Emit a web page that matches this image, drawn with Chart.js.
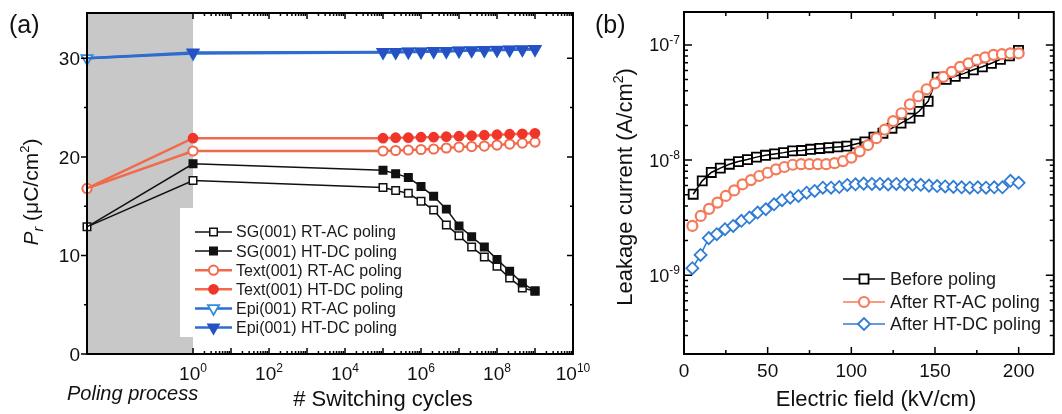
<!DOCTYPE html>
<html><head><meta charset="utf-8">
<script src="https://cdn.jsdelivr.net/npm/chart.js@4.4.1/dist/chart.umd.min.js"></script>
<style>
html,body{margin:0;padding:0;background:#fff;}
#wrap{position:relative;width:1062px;height:414px;overflow:hidden;background:#fff;}
#ca{position:absolute;left:0;top:0;}
#cb{position:absolute;left:590px;top:0;}
</style></head><body>
<div id="wrap"><canvas id="ca" width="600" height="414"></canvas><canvas id="cb" width="472" height="414"></canvas></div>
<script>
// ================= Panel (a) data =================
const polingStart = Math.pow(10, -2.79); // "before poling" state, plotted at the left edge
const cyclesA = [polingStart, 1, 1e5, 2.15e5, 4.64e5, 1e6, 2.15e6, 4.64e6, 1e7, 2.15e7, 4.64e7, 1e8, 2.15e8, 4.64e8, 1e9];
const sgRT   = [12.9, 17.6, 16.9, 16.6, 16.3, 15.5, 14.6, 13.1, 12.0, 10.85, 9.85, 8.9, 7.7, 6.7, 6.4];
const sgHT   = [12.9, 19.3, 18.65, 18.3, 17.9, 17.0, 16.0, 14.7, 13.0, 11.9, 10.85, 9.6, 8.4, 7.2, 6.4];
const textRT = [16.8, 20.6, 20.6, 20.65, 20.7, 20.75, 20.8, 20.9, 21.0, 21.05, 21.1, 21.2, 21.3, 21.4, 21.5];
const textHT = [16.8, 21.9, 21.9, 21.95, 21.95, 22.0, 22.0, 22.05, 22.1, 22.15, 22.2, 22.25, 22.3, 22.35, 22.4];
const epiRT  = [30.0, 30.5, 30.6, 30.6, 30.65, 30.65, 30.7, 30.7, 30.75, 30.8, 30.8, 30.85, 30.85, 30.9, 30.9];
const epiHT  = [30.0, 30.6, 30.65, 30.65, 30.7, 30.7, 30.75, 30.75, 30.8, 30.8, 30.85, 30.85, 30.9, 30.9, 30.95];
const yTicksA = [0, 10, 20, 30];
const xDecadeLabelsA = [0, 2, 4, 6, 8, 10];
const legendA = ['SG(001) RT-AC poling', 'SG(001) HT-DC poling', 'Text(001) RT-AC poling', 'Text(001) HT-DC poling', 'Epi(001) RT-AC poling', 'Epi(001) HT-DC poling'];

// ================= Panel (b) data =================
const fieldBefore = [5.5, 10.9, 16.3, 21.7, 27.1, 32.5, 37.9, 43.3, 48.7, 54.1, 59.5, 64.9, 70.3, 75.7, 81.1, 86.5, 91.9, 97.3, 102.7, 108.1, 113.5, 118.9, 124.3, 129.7, 135.1, 140.5, 145.9, 151.3, 156.7, 162.1, 167.5, 172.9, 178.3, 183.7, 189.1, 194.5, 199.9];
const leakBefore = [5.05e-9, 6.6e-9, 7.8e-9, 8.5e-9, 9.2e-9, 9.7e-9, 1.01e-8, 1.06e-8, 1.10e-8, 1.13e-8, 1.16e-8, 1.20e-8, 1.21e-8, 1.24e-8, 1.26e-8, 1.28e-8, 1.30e-8, 1.32e-8, 1.38e-8, 1.44e-8, 1.58e-8, 1.71e-8, 1.89e-8, 2.09e-8, 2.31e-8, 2.65e-8, 3.24e-8, 5.24e-8, 5.02e-8, 5.34e-8, 5.66e-8, 6.08e-8, 6.45e-8, 6.92e-8, 7.48e-8, 8.03e-8, 8.95e-8];
const fieldRT = [5, 10, 15, 20, 25, 30, 35, 40, 45, 50, 55, 60, 65, 70, 75, 80, 85, 90, 95, 100, 105, 110, 115, 120, 125, 130, 135, 140, 145, 150, 155, 160, 165, 170, 175, 180, 185, 190, 195, 200];
const leakRT = [2.68e-9, 3.27e-9, 3.77e-9, 4.27e-9, 4.88e-9, 5.45e-9, 6.16e-9, 6.7e-9, 7.27e-9, 7.76e-9, 8.3e-9, 8.7e-9, 9.1e-9, 9.2e-9, 9.2e-9, 9.2e-9, 9.2e-9, 9.4e-9, 9.8e-9, 1.05e-8, 1.19e-8, 1.35e-8, 1.55e-8, 1.84e-8, 2.18e-8, 2.55e-8, 3.05e-8, 3.58e-8, 4.12e-8, 4.64e-8, 5.28e-8, 5.83e-8, 6.45e-8, 6.92e-8, 7.41e-8, 7.8e-8, 8.2e-8, 8.3e-8, 8.45e-8, 8.45e-8];
const fieldHT = [5.0, 9.9, 14.8, 19.6, 24.5, 29.4, 34.3, 39.1, 44.0, 48.9, 53.8, 58.6, 63.5, 68.4, 73.3, 78.1, 83.0, 87.9, 92.8, 97.6, 102.5, 107.4, 112.3, 117.1, 122.0, 126.9, 131.8, 136.6, 141.5, 146.4, 151.3, 156.1, 161.0, 165.9, 170.8, 175.6, 180.5, 185.4, 190.3, 195.1, 200.0];
const leakHT = [1.15e-9, 1.50e-9, 2.1e-9, 2.27e-9, 2.51e-9, 2.68e-9, 2.97e-9, 3.17e-9, 3.5e-9, 3.74e-9, 4.13e-9, 4.48e-9, 4.72e-9, 4.88e-9, 5.21e-9, 5.39e-9, 5.75e-9, 5.75e-9, 5.83e-9, 6.08e-9, 6.16e-9, 6.24e-9, 6.2e-9, 6.2e-9, 6.15e-9, 6.2e-9, 6.15e-9, 6.1e-9, 6.1e-9, 6.0e-9, 5.95e-9, 5.9e-9, 5.85e-9, 5.8e-9, 5.75e-9, 5.8e-9, 5.75e-9, 5.8e-9, 5.8e-9, 6.6e-9, 6.35e-9];
const xTicksB = [0, 50, 100, 150, 200];
const yDecadeLabelsB = [-7, -8, -9];
const legendB = ['Before poling', 'After RT-AC poling', 'After HT-DC poling'];

// ================= helpers =================
const FONT = '"Liberation Sans", Arial, Helvetica, sans-serif';
const C_BLACK = '#111111', C_ORANGE = '#F06A4B', C_RED = '#F0352A', C_BLUE = '#2E6CCF', C_BLUE_D = '#2750C4', C_CYAN = '#2F8ED6';
const C_ORANGE_B = '#F47A5A', C_BLUE_B = '#2F7CD6';

function pts(xs, ys) { return xs.map((x, i) => ({x: x, y: ys[i]})); }

function drawMarker(ctx, style, x, y, r, stroke, fill, lw) {
  ctx.save();
  ctx.beginPath();
  if (style === 'rect') { const s = Math.SQRT1_2 * r; ctx.rect(x - s, y - s, 2 * s, 2 * s); }
  else if (style === 'circle') { ctx.arc(x, y, r, 0, Math.PI * 2); }
  else if (style === 'triDown') { ctx.moveTo(x, y + r); ctx.lineTo(x - 0.866 * r, y - 0.5 * r); ctx.lineTo(x + 0.866 * r, y - 0.5 * r); ctx.closePath(); }
  else if (style === 'diamond') { ctx.moveTo(x - r, y); ctx.lineTo(x, y - r); ctx.lineTo(x + r, y); ctx.lineTo(x, y + r); ctx.closePath(); }
  ctx.fillStyle = fill; ctx.fill();
  ctx.lineWidth = lw; ctx.strokeStyle = stroke; ctx.stroke();
  ctx.restore();
}

function supLabel(ctx, base, sup, x, baseY, size, supSize, align) {
  ctx.font = size + 'px ' + FONT;
  const w1 = ctx.measureText(base).width;
  ctx.font = supSize + 'px ' + FONT;
  const w2 = ctx.measureText(sup).width;
  const total = w1 + w2;
  const start = align === 'center' ? x - total / 2 : (align === 'right' ? x - total : x);
  ctx.textAlign = 'left'; ctx.textBaseline = 'alphabetic'; ctx.fillStyle = '#111';
  ctx.font = size + 'px ' + FONT; ctx.fillText(base, start, baseY);
  ctx.font = supSize + 'px ' + FONT; ctx.fillText(sup, start + w1, baseY - size * 0.42);
}

function richText(ctx, segs, cx, cy, rotate) {
  ctx.save(); ctx.translate(cx, cy); if (rotate) ctx.rotate(-Math.PI / 2);
  let total = 0;
  segs.forEach(s => { ctx.font = s.font; s.w = ctx.measureText(s.t).width; total += s.w; });
  let xx = -total / 2;
  ctx.textBaseline = 'alphabetic'; ctx.textAlign = 'left'; ctx.fillStyle = '#111';
  segs.forEach(s => { ctx.font = s.font; ctx.fillText(s.t, xx, s.dy || 0); xx += s.w; });
  ctx.restore();
}

function legendRow(ctx, x0, x1, y, color, lw, marker, r, stroke, fill, mlw, text, tx, size) {
  ctx.save();
  ctx.strokeStyle = color; ctx.lineWidth = lw;
  ctx.beginPath(); ctx.moveTo(x0, y); ctx.lineTo(x1, y); ctx.stroke();
  drawMarker(ctx, marker, (x0 + x1) / 2, y, r, stroke, fill, mlw);
  ctx.fillStyle = '#1a1a1a'; ctx.font = size + 'px ' + FONT;
  ctx.textAlign = 'left'; ctx.textBaseline = 'middle';
  ctx.fillText(text, tx, y + 1);
  ctx.restore();
}

const common = {
  responsive: false, animation: false, devicePixelRatio: 1,
  plugins: {legend: {display: false}, tooltip: {enabled: false}},
  elements: {line: {tension: 0}}
};

// ================= Panel (a) =================
const panelA = {
  id: 'panelA',
  beforeDatasetsDraw(chart) {
    const {ctx, chartArea: a, scales: {x}} = chart;
    ctx.save();
    ctx.fillStyle = '#c8c8c8';
    const xe = x.getPixelForValue(1);
    ctx.fillRect(a.left, a.top, xe - a.left, a.bottom - a.top);
    ctx.restore();
  },
  afterDraw(chart) {
    const {ctx, chartArea: a, scales: {x, y}} = chart;
    ctx.save();
    ctx.strokeStyle = '#000'; ctx.lineWidth = 1.5;
    ctx.beginPath();
    for (let v = 0; v <= 30; v += 5) {
      const py = y.getPixelForValue(v);
      const len = v % 10 === 0 ? 6 : 3;
      ctx.moveTo(a.left - len, py); ctx.lineTo(a.left, py);
      ctx.moveTo(a.right, py); ctx.lineTo(a.right - len, py);
    }
    for (let e = 0; e <= 10; e++) {
      const px = x.getPixelForValue(Math.pow(10, e));
      ctx.moveTo(px, a.bottom); ctx.lineTo(px, a.bottom - 6);
      ctx.moveTo(px, a.top); ctx.lineTo(px, a.top + 6);
      if (e < 10) for (let k = 2; k <= 9; k++) {
        const pm = x.getPixelForValue(k * Math.pow(10, e));
        ctx.moveTo(pm, a.bottom); ctx.lineTo(pm, a.bottom - 3);
        ctx.moveTo(pm, a.top); ctx.lineTo(pm, a.top + 3);
      }
    }
    ctx.stroke();

    // legend box
    ctx.fillStyle = '#fff';
    ctx.fillRect(180, 208, 224, 129);
    const rowY = i => 232 + 19.1 * i;
    legendRow(ctx, 195, 232, rowY(0), C_BLACK, 1.5, 'rect', 5.3, C_BLACK, '#fff', 1.5, legendA[0], 236, 16);
    legendRow(ctx, 195, 232, rowY(1), C_BLACK, 1.5, 'rect', 5.3, C_BLACK, C_BLACK, 1.5, legendA[1], 236, 16);
    legendRow(ctx, 195, 232, rowY(2), C_ORANGE, 2.5, 'circle', 4.6, C_ORANGE, '#fff', 2, legendA[2], 236, 16);
    legendRow(ctx, 195, 232, rowY(3), C_ORANGE, 2.5, 'circle', 4.6, C_RED, C_RED, 1.5, legendA[3], 236, 16);
    legendRow(ctx, 195, 232, rowY(4), C_BLUE, 2.5, 'triDown', 6.5, C_CYAN, '#fff', 1.8, legendA[4], 236, 16);
    legendRow(ctx, 195, 232, rowY(5), C_BLUE, 2.5, 'triDown', 6.5, C_BLUE_D, C_BLUE_D, 1.5, legendA[5], 236, 16);

    // frame
    ctx.strokeStyle = '#000'; ctx.lineWidth = 2;
    ctx.strokeRect(a.left, a.top, a.right - a.left, a.bottom - a.top);

    // tick labels
    ctx.fillStyle = '#111'; ctx.font = '19px ' + FONT; ctx.textAlign = 'right'; ctx.textBaseline = 'alphabetic';
    yTicksA.forEach(v => { ctx.fillText(String(v), a.left - 7, y.getPixelForValue(v) + 7); });
    const supMap = {0: '0', 2: '2', 4: '4', 6: '6', 8: '8', 10: '10'};
    xDecadeLabelsA.forEach(e => supLabel(ctx, '10', supMap[e], x.getPixelForValue(Math.pow(10, e)), 380, 19, 12, 'center'));

    // texts
    ctx.fillStyle = '#111'; ctx.textAlign = 'left';
    ctx.font = 'italic 20px ' + FONT; ctx.fillText('Poling process', 67, 400);
    ctx.font = '22px ' + FONT; ctx.textAlign = 'center'; ctx.fillText('# Switching cycles', 383, 406);
    ctx.font = '25px ' + FONT; ctx.textAlign = 'left'; ctx.fillText('(a)', 9, 33);
    richText(ctx, [
      {t: 'P', font: 'italic 21px ' + FONT},
      {t: 'r', font: 'italic 14px ' + FONT, dy: 5},
      {t: ' (\u03bcC/cm', font: '21px ' + FONT},
      {t: '2', font: '13px ' + FONT, dy: -9},
      {t: ')', font: '21px ' + FONT}
    ], 38, 192, true);
    ctx.restore();
  }
};

function dsA(label, xs, ys, color, lw, style, r, stroke, fill, mlw, order, rot, hideFirst) {
  return {
    label: label, data: pts(xs, ys), order: order, clip: false,
    borderColor: color, borderWidth: lw, pointStyle: style, pointRotation: rot || 0,
    pointRadius: hideFirst ? (c => c.dataIndex === 0 ? 0 : r) : r,
    pointBorderColor: stroke, pointBackgroundColor: fill, pointBorderWidth: mlw
  };
}

new Chart(document.getElementById('ca'), {
  type: 'line',
  data: { datasets: [
    dsA(legendA[5], cyclesA, epiHT, C_BLUE, 2.5, 'triangle', 6.5, C_BLUE_D, C_BLUE_D, 1.5, 0, 180, true),
    dsA(legendA[4], cyclesA, epiRT, C_BLUE, 2.5, 'triangle', 6.5, C_CYAN, '#fff', 1.8, 1, 180, false),
    dsA(legendA[3], cyclesA, textHT, C_ORANGE, 2.5, 'circle', 4.6, C_RED, C_RED, 1.5, 2, 0, true),
    dsA(legendA[2], cyclesA, textRT, C_ORANGE, 2.5, 'circle', 4.6, C_ORANGE, '#fff', 2, 3, 0, false),
    dsA(legendA[1], cyclesA, sgHT, C_BLACK, 1.5, 'rect', 5.3, C_BLACK, C_BLACK, 1.5, 4, 0, true),
    dsA(legendA[0], cyclesA, sgRT, C_BLACK, 1.5, 'rect', 5.3, C_BLACK, '#fff', 1.5, 5, 0, false)
  ]},
  options: Object.assign({}, common, {
    layout: {padding: {left: 87, top: 13, right: 27, bottom: 60}},
    scales: {
      x: {type: 'logarithmic', display: false, min: polingStart, max: 1e10},
      y: {type: 'linear', display: false, min: 0, max: 34.6}
    }
  }),
  plugins: [panelA]
});

// ================= Panel (b) =================
const panelB = {
  id: 'panelB',
  afterDraw(chart) {
    const {ctx, chartArea: a, scales: {x, y}} = chart;
    ctx.save();
    ctx.strokeStyle = '#000'; ctx.lineWidth = 1.5;
    ctx.beginPath();
    for (let v = 0; v <= 220; v += 25) {
      const px = x.getPixelForValue(v);
      const len = v % 50 === 0 ? 7 : 4;
      ctx.moveTo(px, a.bottom); ctx.lineTo(px, a.bottom - len);
      ctx.moveTo(px, a.top); ctx.lineTo(px, a.top + len);
    }
    for (let e = -10; e <= -7; e++) {
      for (let k = 1; k <= 9; k++) {
        const v = k * Math.pow(10, e);
        if (v < y.min || v > y.max) continue;
        const py = y.getPixelForValue(v);
        const len = k === 1 ? 8 : 4;
        ctx.moveTo(a.left, py); ctx.lineTo(a.left + len, py);
        ctx.moveTo(a.right, py); ctx.lineTo(a.right - len, py);
      }
    }
    ctx.stroke();

    // legend
    const rows = [279, 302, 324];
    legendRow(ctx, 253, 295, rows[0], '#000', 1.5, 'rect', 6.4, '#000', '#fff', 1.8, legendB[0], 300, 18);
    legendRow(ctx, 253, 295, rows[1], C_ORANGE_B, 1.5, 'circle', 5, C_ORANGE_B, '#fff', 2.2, legendB[1], 300, 18);
    legendRow(ctx, 253, 295, rows[2], C_BLUE_B, 1.5, 'diamond', 6, C_BLUE_B, '#fff', 1.8, legendB[2], 300, 18);

    // frame
    ctx.strokeStyle = '#000'; ctx.lineWidth = 2;
    ctx.strokeRect(a.left, a.top, a.right - a.left, a.bottom - a.top);

    // tick labels
    ctx.fillStyle = '#111'; ctx.font = '19px ' + FONT; ctx.textAlign = 'center'; ctx.textBaseline = 'alphabetic';
    xTicksB.forEach(v => ctx.fillText(String(v), x.getPixelForValue(v), 377));
    yDecadeLabelsB.forEach(e => {
      const py = y.getPixelForValue(Math.pow(10, e));
      supLabel(ctx, '10', String(e), 90, py + 6.5, 18, 12, 'right');
    });

    // texts
    ctx.fillStyle = '#111';
    ctx.font = '22px ' + FONT; ctx.textAlign = 'center'; ctx.fillText('Electric field (kV/cm)', 286, 406);
    ctx.font = '25px ' + FONT; ctx.textAlign = 'left'; ctx.fillText('(b)', 5, 33);
    richText(ctx, [
      {t: 'Leakage current (A/cm', font: '22px ' + FONT},
      {t: '2', font: '14px ' + FONT, dy: -9},
      {t: ')', font: '22px ' + FONT}
    ], 42, 187, true);
    ctx.restore();
  }
};

new Chart(document.getElementById('cb'), {
  type: 'line',
  data: { datasets: [
    {label: legendB[0], data: pts(fieldBefore, leakBefore), order: 2, clip: false,
     borderColor: '#000', borderWidth: 1.5, pointStyle: 'rect', pointRadius: 6.4,
     pointBorderColor: '#000', pointBackgroundColor: 'rgba(255,255,255,0)', pointBorderWidth: 1.8},
    {label: legendB[1], data: pts(fieldRT, leakRT), order: 1, clip: false,
     borderColor: C_ORANGE_B, borderWidth: 1.5, pointStyle: 'circle', pointRadius: 5,
     pointBorderColor: C_ORANGE_B, pointBackgroundColor: '#fff', pointBorderWidth: 2.2},
    {label: legendB[2], data: pts(fieldHT, leakHT), order: 0, clip: false,
     borderColor: C_BLUE_B, borderWidth: 1.5, pointStyle: 'rectRot', pointRadius: 6,
     pointBorderColor: C_BLUE_B, pointBackgroundColor: '#fff', pointBorderWidth: 1.8}
  ]},
  options: Object.assign({}, common, {
    layout: {padding: {left: 94, top: 12, right: 2, bottom: 60}},
    scales: {
      x: {type: 'linear', display: false, min: 0, max: 221},
      y: {type: 'logarithmic', display: false, min: 2.07e-10, max: 1.93e-7}
    }
  }),
  plugins: [panelB]
});
</script>
</body></html>
